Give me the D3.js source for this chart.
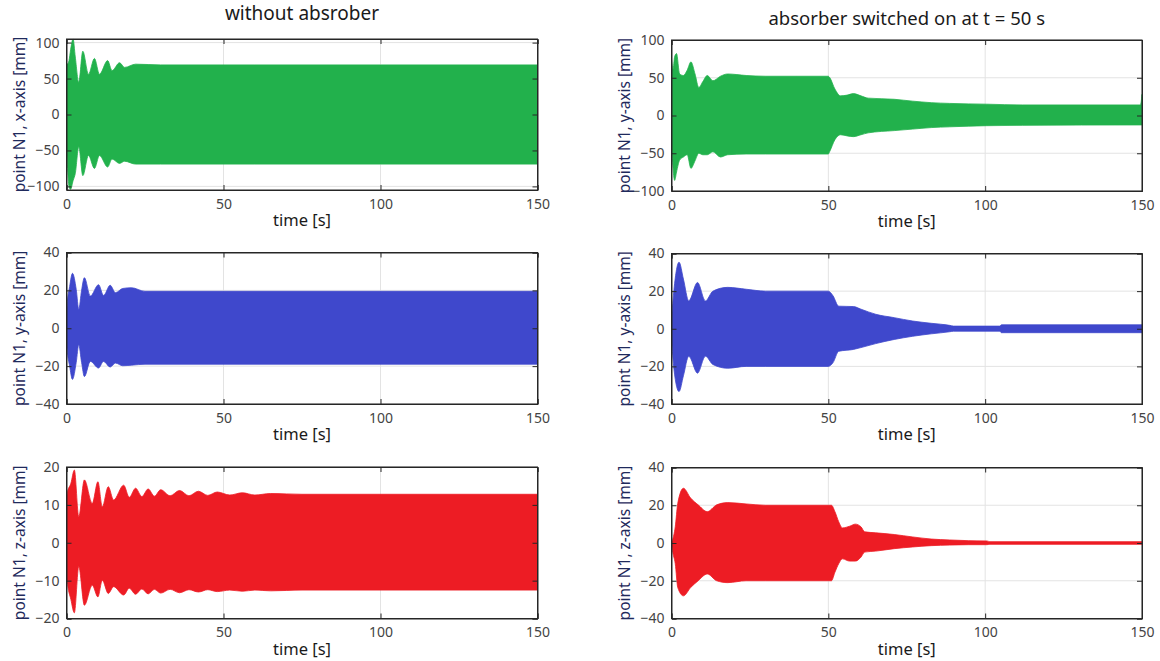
<!DOCTYPE html>
<html>
<head>
<meta charset="utf-8">
<script src="https://cdn.jsdelivr.net/npm/d3@7"></script>
<style>
  body { margin: 0; background: #fff; }
  svg { display: block; }
  text { font-family: "Noto Sans", "Open Sans", sans-serif; }
</style>
</head>
<body>
<div id="chart"></div>
<script>
// time axis ticks shared by every panel
var timeTicks = [0, 50, 100, 150];

// top left: x-axis, without absorber (envelope)
var xFreeT  = [0, 0.3, 0.8, 1.3, 2.1, 2.8, 3.9, 5.2, 7.0, 8.9, 10.5, 13.1, 14.5, 16.9, 18.5, 22, 30, 60, 100, 150];
var xFreeUp = [72, 70, 75, 90, 105, 80, 45, 88, 56, 78, 56, 75, 61, 72, 65.5, 70, 69, 69, 69, 69];
var xFreeLo = [-40, -70, -100, -104, -92, -82, -45, -85, -57, -75, -57, -73, -62, -68, -65, -69, -69, -69, -69, -69];

// top right: y-axis, absorber on at 50 s
var yOnT1  = [0, 0.5, 1.0, 1.6, 2.6, 3.8, 5.0, 6.2, 7.5, 8.7, 10, 11.4, 13.2, 15.6, 17.9, 23.8, 30, 40, 50, 50.4, 52.1, 53.9, 56, 58, 60.4, 62.7, 71, 76.9, 82.8, 88.7, 100.5, 112, 149.5, 150];
var yOnUp1 = [75, 62, 78, 82, 55, 53, 60, 71, 55, 37, 45, 53, 46, 52, 55, 53, 52, 52, 52, 50.5, 35, 26, 27, 29, 26, 23, 21.5, 19, 17, 16, 15, 14, 14, 28];
var yOnLo1 = [-30, -70, -86, -75, -59, -55, -52, -70, -60, -50, -52, -52, -48, -55, -52, -51, -51, -51, -51, -48, -32, -25.5, -27, -28, -25.5, -23, -20, -18, -16, -15, -13.5, -13, -12.5, -12.5];

// middle left: y-axis, without absorber
var yFreeT  = [0, 0.2, 1.0, 1.9, 3.1, 3.9, 4.8, 5.7, 7.6, 10.2, 11.8, 13.9, 15.6, 17.9, 20.7, 25, 150];
var yFreeUp = [0, 12, 22, 29, 20.5, 10, 20, 26.7, 17, 23, 17.3, 22.7, 18.8, 21, 21.4, 19.5, 19.5];
var yFreeLo = [0, -11, -20, -27, -18, -8.7, -18, -25.5, -17.5, -21, -17.5, -20.5, -18.4, -19.8, -19.5, -19, -19];

// middle right: y-axis, absorber on at 50 s
var yOnT2  = [0, 0.8, 2.4, 3.8, 5.5, 8.3, 10.8, 13.2, 17.9, 23.8, 30, 50, 51.5, 53.3, 58, 60.4, 65.1, 71, 76.9, 82.8, 88.7, 89.9, 104.6, 105.2, 150];
var yOnUp2 = [5, 21, 35.4, 26.4, 14.8, 24.6, 14.8, 20, 22, 21, 20, 20, 17.5, 12, 11.8, 10.4, 7.7, 5.9, 4.1, 2.9, 1.8, 1.4, 1.4, 2.1, 2.1];
var yOnLo2 = [-5, -21.8, -33.4, -25, -14.6, -23.6, -14.6, -19, -21, -20, -20, -20, -18, -12, -11, -10, -7.9, -5.7, -4, -2.7, -1.6, -1.3, -1.3, -2.1, -2.1];

// bottom left: z-axis, without absorber
var zFreeT  = [0, 0.2, 1.4, 2.5, 3.9, 5.7, 8.2, 10.0, 11.4, 13.3, 15.0, 18.2, 20, 22, 24, 26, 28, 30, 33, 36, 39, 42, 45, 48, 52, 56, 60, 65, 75, 150];
var zFreeUp = [0, 13, 15.7, 19.2, 6.9, 16.6, 10.4, 16.1, 9.5, 14.8, 11.3, 15.2, 12, 14.4, 12.2, 14.2, 12.3, 14, 12.4, 13.8, 12.4, 13.6, 12.5, 13.4, 12.6, 13.2, 12.6, 13, 12.8, 12.8];
var zFreeLo = [0, -9.9, -15, -18.5, -6.3, -16.5, -11.2, -14.3, -9.9, -13.4, -11.6, -13.8, -12, -13.6, -12.2, -13.5, -12.3, -13.3, -12.3, -13.2, -12.4, -13, -12.4, -12.9, -12.5, -12.8, -12.5, -12.7, -12.5, -12.5];

// bottom right: z-axis, absorber on at 50 s
var zOnT  = [0, 0.3, 1.2, 2.0, 3.8, 6.1, 8.5, 11.4, 14.4, 17.9, 23.8, 30, 51, 52.1, 53.3, 54.5, 56.8, 58.6, 60.4, 61.6, 65.1, 71, 76.9, 82.8, 88.7, 94.6, 100.5, 101.5, 150];
var zOnUp = [0, 1.4, 8.6, 21, 29, 23.8, 20.2, 16.6, 20.2, 21.4, 20.7, 20, 20, 16.6, 11.3, 8, 8.9, 10, 8.6, 5.9, 5.4, 4.5, 3.2, 2.1, 1.6, 1.25, 1.1, 0.7, 0.7];
var zOnLo = [0, -3.9, -11, -23.6, -28, -23.6, -20, -16.4, -20, -21, -20, -20, -20, -15.5, -11, -8.4, -9.6, -9.6, -7.5, -4.8, -4.3, -3, -2.1, -1.4, -1.1, -0.9, -0.9, -0.7, -0.7];

var titles = ["without absrober", "absorber switched on at t = 50 s"];

var panels = [
    {col: 0, row: 0, t: xFreeT, up: xFreeUp, lo: xFreeLo, ydom: [-105, 105], yticks: [-100, -50, 0, 50, 100], color: "#22b14c", label: "point N1, x-axis [mm]"},
    {col: 1, row: 0, t: yOnT1, up: yOnUp1, lo: yOnLo1, ydom: [-100, 100], yticks: [-100, -50, 0, 50, 100], color: "#22b14c", label: "point N1, y-axis [mm]"},
    {col: 0, row: 1, t: yFreeT, up: yFreeUp, lo: yFreeLo, ydom: [-40, 40], yticks: [-40, -20, 0, 20, 40], color: "#3f48cc", label: "point N1, y-axis [mm]"},
    {col: 1, row: 1, t: yOnT2, up: yOnUp2, lo: yOnLo2, ydom: [-40, 40], yticks: [-40, -20, 0, 20, 40], color: "#3f48cc", label: "point N1, y-axis [mm]"},
    {col: 0, row: 2, t: zFreeT, up: zFreeUp, lo: zFreeLo, ydom: [-20, 20], yticks: [-20, -10, 0, 10, 20], color: "#ed1c24", label: "point N1, z-axis [mm]"},
    {col: 1, row: 2, t: zOnT, up: zOnUp, lo: zOnLo, ydom: [-40, 40], yticks: [-40, -20, 0, 20, 40], color: "#ed1c24", label: "point N1, z-axis [mm]"}
];

var W = 1160, H = 661;
var colX = [[66.5, 537.5], [671.5, 1142]];
var rowY = [[[39, 190], [252.5, 404], [467, 618.5]],
            [[40, 191], [253.5, 404], [467.5, 618.5]]];

var svg = d3.select("#chart").append("svg")
    .attr("width", W)
    .attr("height", H);

svg.append("rect").attr("width", W).attr("height", H).attr("fill", "#fff");

// column titles
svg.append("text")
    .attr("x", (colX[0][0] + colX[0][1]) / 2)
    .attr("y", 20)
    .attr("text-anchor", "middle")
    .attr("font-size", 19)
    .attr("fill", "#1a1a1a")
    .text(titles[0]);
svg.append("text")
    .attr("x", (colX[1][0] + colX[1][1]) / 2)
    .attr("y", 25)
    .attr("text-anchor", "middle")
    .attr("font-size", 18.5)
    .attr("fill", "#1a1a1a")
    .text(titles[1]);

panels.forEach(function(p) {
    var xr = colX[p.col], yr = rowY[p.col][p.row];
    var x = d3.scaleLinear().domain([0, 150]).range(xr);
    var y = d3.scaleLinear().domain(p.ydom).range([yr[1], yr[0]]);
    var g = svg.append("g");
    var pts = p.t.map(function(t, i) { return {t: t, up: p.up[i], lo: p.lo[i]}; });

    // grid
    g.selectAll(".gx").data(timeTicks).enter().append("line")
        .attr("x1", function(d) { return x(d); }).attr("x2", function(d) { return x(d); })
        .attr("y1", yr[0]).attr("y2", yr[1])
        .attr("stroke", "#e3e3e3").attr("stroke-width", 1);
    g.selectAll(".gy").data(p.yticks).enter().append("line")
        .attr("x1", xr[0]).attr("x2", xr[1])
        .attr("y1", function(d) { return y(d); }).attr("y2", function(d) { return y(d); })
        .attr("stroke", "#e3e3e3").attr("stroke-width", 1);

    // signal envelope
    var area = d3.area()
        .curve(d3.curveMonotoneX)
        .x(function(d) { return x(d.t); })
        .y0(function(d) { return y(d.lo); })
        .y1(function(d) { return y(d.up); });
    g.append("path")
        .datum(pts)
        .attr("fill", p.color)
        .attr("stroke", p.color)
        .attr("stroke-width", 0.8)
        .attr("d", area);

    // axes: ticks inward on all four sides
    var fmt = d3.format("d");
    g.append("g")
        .attr("transform", "translate(0," + yr[1] + ")")
        .call(d3.axisBottom(x).tickValues(timeTicks).tickSize(-5).tickPadding(9).tickFormat(fmt));
    g.append("g")
        .attr("transform", "translate(" + xr[0] + ",0)")
        .call(d3.axisLeft(y).tickValues(p.yticks).tickSize(-5).tickPadding(7).tickFormat(fmt));
    g.append("g")
        .attr("transform", "translate(0," + yr[0] + ")")
        .call(d3.axisTop(x).tickValues(timeTicks).tickSize(-5).tickFormat(""));
    g.append("g")
        .attr("transform", "translate(" + xr[1] + ",0)")
        .call(d3.axisRight(y).tickValues(p.yticks).tickSize(-5).tickFormat(""));

    g.selectAll(".domain").attr("stroke", "#262626");
    g.selectAll(".tick line").attr("stroke", "#262626");
    g.selectAll(".tick text")
        .attr("font-family", "'Noto Sans', sans-serif")
        .attr("font-size", 14)
        .attr("fill", "#444");

    // box outline
    g.append("rect")
        .attr("x", xr[0]).attr("y", yr[0])
        .attr("width", xr[1] - xr[0]).attr("height", yr[1] - yr[0])
        .attr("fill", "none").attr("stroke", "#262626").attr("stroke-width", 1);

    // axis labels
    g.append("text")
        .attr("x", (xr[0] + xr[1]) / 2)
        .attr("y", yr[1] + 36)
        .attr("text-anchor", "middle")
        .attr("font-size", 16.5)
        .attr("fill", "#1a1a1a")
        .text("time [s]");
    g.append("text")
        .attr("transform", "translate(" + (xr[0] - 42) + "," + ((yr[0] + yr[1]) / 2) + ") rotate(-90)")
        .attr("text-anchor", "middle")
        .attr("font-size", 15.5)
        .attr("fill", "#1f2a5c")
        .text(p.label);
});
</script>
</body>
</html>
